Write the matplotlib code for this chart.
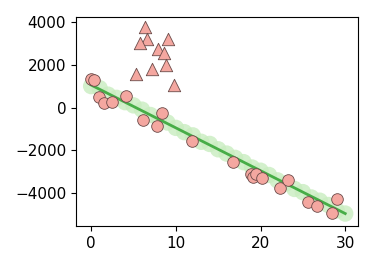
import numpy as np
import matplotlib.pyplot as plt

# observed points
obs_x = [0.0, 0.39, 0.98, 1.57, 2.48, 4.10, 6.14, 7.83, 8.38, 11.87,
         16.77, 18.85, 19.16, 19.48, 20.15, 22.31, 23.22, 25.66, 26.65, 28.45, 29.08]
obs_y = [1350, 1270, 480, 220, 265, 525, -605, -840, -265, -1560,
         -2556, -3116, -3222, -3102, -3269, -3780, -3362, -4431, -4590, -4943, -4292]

# outliers
out_x = [6.38, 6.65, 5.79, 9.13, 7.95, 8.65, 8.89, 7.20, 5.28, 9.76]
out_y = [3752, 3195, 3008, 3209, 2730, 2544, 1967, 1800, 1581, 1037]

# light band of underlying values
band_x = [0, 1, 2, 3, 4, 5, 6, 7, 8, 9, 10, 11, 12, 13, 14, 15,
          16, 17, 18, 19, 20, 21, 22, 23, 24, 25, 26, 27, 28, 29, 30]
band_y = [1000, 900, 600, 450, 250, 100, -100, -350, -550, -700, -950, -1150, -1300, -1600, -1700, -1950,
          -2150, -2350, -2550, -2800, -2950, -3150, -3400, -3550, -3800, -3950, -4200, -4350, -4550, -4800, -4950]

# fitted line
fit_x = [0, 30]
fit_y = [1050, -4950]


def main():
    fig, ax = plt.subplots(figsize=(3.74, 2.64), dpi=100)
    fig.subplots_adjust(left=0.203, right=0.957, bottom=0.144, top=0.936)

    ax.scatter(band_x, band_y, s=140, color="#c9edc0", alpha=0.8, edgecolors="none", zorder=1)
    ax.plot(fit_x, fit_y, color="#47ad47", linewidth=2, zorder=2)
    ax.scatter(obs_x, obs_y, s=70, color="#f4a7a0", edgecolors="#6b4a48", linewidths=0.6, zorder=3)
    ax.scatter(out_x, out_y, s=80, marker="^", color="#f4a7a0", edgecolors="#6b4a48", linewidths=0.6, zorder=3)

    ax.set_xlim(-1.8, 31.5)
    ax.set_ylim(-5530, 4230)
    ax.set_xticks([0, 10, 20, 30])
    ax.set_yticks([-4000, -2000, 0, 2000, 4000])
    ax.tick_params(labelsize=11)

    plt.savefig("out.png", dpi=100)
    plt.close()


if __name__ == "__main__":
    main()
